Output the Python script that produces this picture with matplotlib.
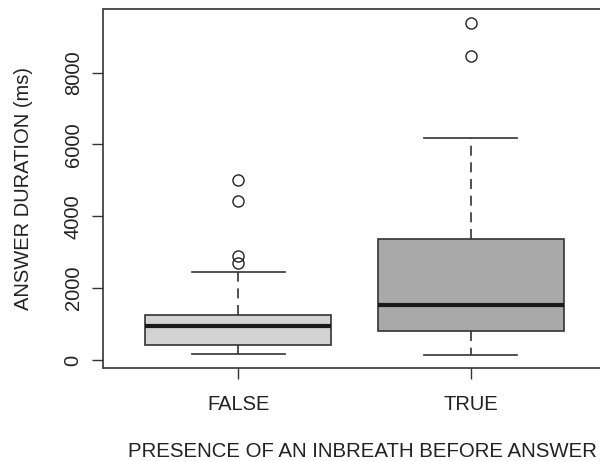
import matplotlib
matplotlib.use("Agg")
import matplotlib.pyplot as plt

# stats (ms)
groups = ["FALSE", "TRUE"]
whislo = [167, 139]
q1 = [418, 800]
med = [940, 1543]
q3 = [1264, 3367]
whishi = [2436, 6183]
fliers = [[2697, 2893, 4416, 5012], [8460, 9392]]
box_colors = ["#d3d3d3", "#a9a9a9"]

plt.rcParams['font.family'] = ['Liberation Sans', 'DejaVu Sans']

fig = plt.figure(figsize=(6, 4.61), dpi=100)
# axes extends past the right edge, as in the cropped original
ax = fig.add_axes([103.5 / 600, 92.7 / 461, 502 / 600, 359 / 461])

stats = []
for i in range(len(groups)):
    stats.append({"label": groups[i], "whislo": whislo[i], "q1": q1[i], "med": med[i],
                  "q3": q3[i], "whishi": whishi[i], "fliers": fliers[i]})

edge = "#333333"
txt = "#222222"
fs = 14.5
bp = ax.bxp(stats, positions=[1, 2], widths=0.8, patch_artist=True,
            boxprops=dict(edgecolor=edge, linewidth=1.2),
            medianprops=dict(color="#1a1a1a", linewidth=3.0, solid_capstyle="butt"),
            whiskerprops=dict(color=edge, linewidth=1.2, linestyle=(0, (6, 4))),
            capprops=dict(color=edge, linewidth=1.2),
            flierprops=dict(marker="o", markerfacecolor="none", markeredgecolor="#222222",
                            markersize=8, markeredgewidth=1.0),
            capwidths=0.4)
for patch, c in zip(bp["boxes"], box_colors):
    patch.set_facecolor(c)

# R-style 4% padding around the data range
lo = min(whislo)
hi = max(max(f) for f in fliers)
rng = hi - lo
ax.set_ylim(lo - 0.04 * rng, hi + 0.04 * rng)
ax.set_xlim(0.42, 2.58)

ax.set_yticks([0, 2000, 4000, 6000, 8000])
ax.set_yticklabels(["0", "2000", "4000", "6000", "8000"], rotation=90, va="center")
ax.set_xticks([1, 2])
ax.set_xticklabels(groups)

for s in ax.spines.values():
    s.set_color(edge)
    s.set_linewidth(1.2)

ax.tick_params(axis="both", length=8, width=1.0, color=edge, labelsize=fs,
               labelcolor=txt)
ax.tick_params(axis="y", pad=7)
ax.tick_params(axis="x", pad=11)

ax.set_ylabel("ANSWER DURATION (ms)", fontsize=fs, color=txt, labelpad=22)
ax.set_xlabel("PRESENCE OF AN INBREATH BEFORE ANSWER", fontsize=14.7, color=txt)
ax.xaxis.set_label_coords(0.515, -0.205)

fig.savefig("out.png", dpi=100)
